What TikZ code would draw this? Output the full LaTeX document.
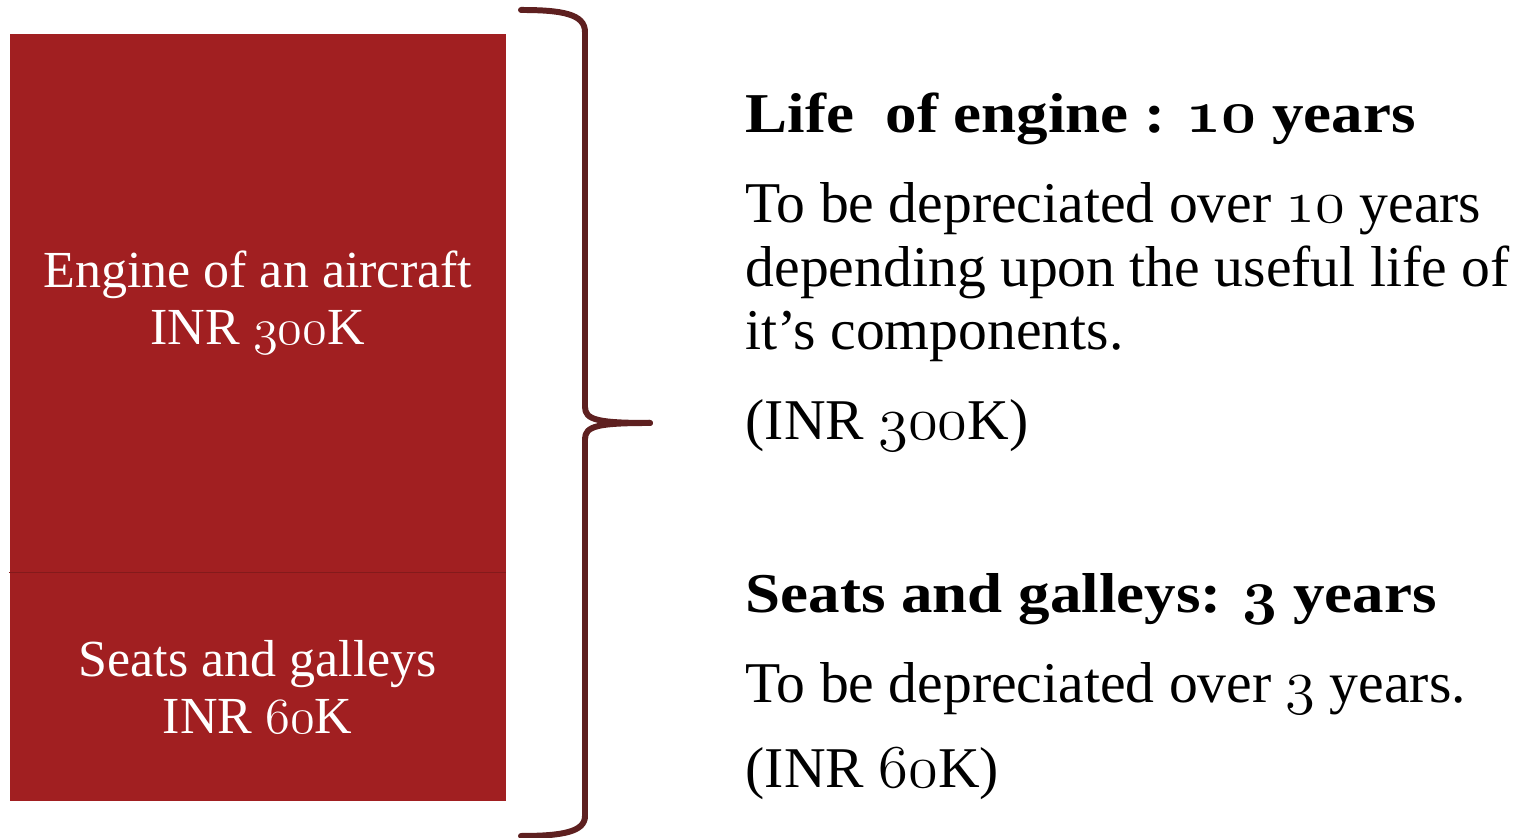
\documentclass[tikz,border=0pt]{standalone}
\usepackage{fontspec}
\setmainfont{Liberation Serif}[BoldFeatures={FakeStretch=1.12}]
\definecolor{boxred}{HTML}{A11F21}
\definecolor{linered}{HTML}{841A1B}
\definecolor{bracered}{HTML}{5E2020}
% hanging figures from the math italic font
\newcommand\osn[1]{{\fontencoding{OML}\fontfamily{cmm}\fontshape{it}\selectfont #1}}
\begin{document}
\begin{tikzpicture}[
    block/.style={fill=boxred, text=white, align=center, anchor=north west,
      minimum width=4.96cm, inner sep=0pt, font=\fontsize{14.8}{16.2}\selectfont},
    heading/.style={anchor=base west, inner sep=0pt, font=\fontsize{16}{19}\selectfont\bfseries},
    body/.style={anchor=base west, inner sep=0pt, align=left, font=\fontsize{16.4}{18.2}\selectfont},
    brace/.style={draw=bracered, line width=1.7pt, line cap=round, line join=round}]

  \useasboundingbox (0,0) rectangle (15.30,8.38);

  % the two parts of the cost
  \node[block, minimum height=5.38cm] (engine) at (0.09,8.05)
    {Engine of an aircraft\\INR \osn{300}K};
  \node[block, minimum height=2.28cm] (seats) at (engine.south west)
    {Seats and galleys\\INR \osn{60}K};
  \draw[linered, line width=0.4pt] (engine.south west) -- (engine.south east);

  % curly brace
  \coordinate (tip) at (6.50,4.15);
  \draw[brace] (5.21,8.28) .. controls (5.62,8.28) and (5.85,8.24) .. (5.85,8.06)
    -- (5.85,4.31) .. controls (5.85,4.18) and (5.98,4.15) .. (tip);
  \draw[brace] (tip) .. controls (5.98,4.15) and (5.85,4.12) .. (5.85,3.99)
    -- (5.85,0.22) .. controls (5.85,0.06) and (5.62,0.02) .. (5.21,0.02);

  % useful lives (base of a multi-line node sits on its last line)
  \node[heading] (lifeengine) at (7.45,7.05) {Life~ of engine : \osn{10} years};
  \node[body] (engtext) at (7.45,4.88)
    {To be depreciated over \osn{10} years\\depending upon the useful life of\\it’s components.};
  \node[body] (engcost) at (7.45,3.98) {(INR \osn{300}K)};

  \node[heading] (lifeseats) at (7.45,2.25) {Seats and galleys: \osn{3} years};
  \node[body] (seattext) at (7.45,1.35) {To be depreciated over \osn{3} years.};
  \node[body] (seatcost) at (7.45,0.50) {(INR \osn{60}K)};

\end{tikzpicture}
\end{document}
